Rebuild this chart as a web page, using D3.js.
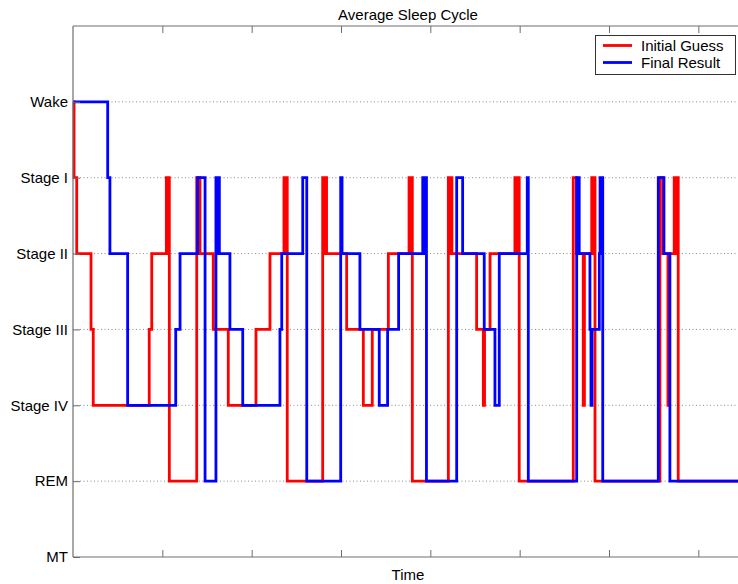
<!DOCTYPE html>
<html>
<head>
<meta charset="utf-8">
<script src="https://cdn.jsdelivr.net/npm/d3@7"></script>
<style>
  html, body { margin: 0; padding: 0; background: #fff; overflow: hidden; }
  svg { display: block; font-family: "Liberation Sans", Arial, Helvetica, sans-serif; }
</style>
</head>
<body>
<div id="chart"></div>
<script>
// ---- data ----
const stageLabels = ["MT", "REM", "Stage IV", "Stage III", "Stage II", "Stage I", "Wake"];
const xTickValues = [60, 120, 180, 240, 300, 360, 420];

// Initial Guess: change times (minutes) and stage index held from that time
const initialTimes = [0, 0.7, 2.5, 12.1, 13.6, 51.2, 52.9, 62.7, 63.3, 63.8, 64.7, 83.1, 85.3, 94.2, 104.3,
  122.9, 132.3, 141.7, 142.6, 143.3, 143.9, 167.7, 168.6, 169.3, 170.3, 183.8, 195.0, 201.0, 211.8,
  225.7, 226.5, 227.2, 227.9, 252.1, 253.0, 253.6, 254.5, 271.1, 275.6, 276.4, 280.1, 296.8, 297.8,
  298.7, 299.7, 336.0, 338.2, 342.7, 343.5, 348.4, 349.3, 349.9, 350.6, 394.2, 396.2, 399.6, 400.5,
  403.8, 404.7, 405.5, 406.5, 450];
const initialStages = [6, 5, 4, 3, 2, 3, 4, 5, 4, 5, 1, 5, 4, 3, 2,
  3, 4, 5, 4, 5, 1, 5, 4, 5, 4, 3, 2, 3, 4,
  5, 4, 5, 1, 5, 4, 5, 4, 3, 2, 3, 4, 5, 4,
  5, 1, 5, 4, 2, 4, 5, 4, 5, 1, 5, 4, 2, 4,
  5, 4, 5, 1, 1];

// Final Result
const finalTimes = [0, 23.3, 24.8, 36.7, 69.0, 71.9, 83.7, 88.7, 96.0, 96.9, 97.6, 98.3, 105.4, 114.0,
  139.0, 140.2, 154.3, 157.0, 179.8, 180.7, 192.7, 205.7, 211.3, 218.7, 234.9, 235.7, 236.4, 237.4,
  257.7, 261.7, 276.2, 283.4, 286.3, 305.1, 305.8, 338.3, 340.0, 347.2, 347.9, 348.6, 353.5, 354.0,
  354.8, 355.3, 355.8, 393.1, 396.9, 400.9, 450];
const finalStages = [6, 5, 4, 2, 3, 4, 5, 1, 5, 4, 5, 4, 3, 2,
  3, 4, 5, 1, 5, 4, 3, 2, 3, 4, 5, 4, 5, 1,
  5, 4, 3, 2, 4, 5, 1, 5, 4, 3, 2, 3, 4, 5,
  4, 5, 1, 5, 4, 1, 1];

const seriesNames = ["Initial Guess", "Final Result"];
const seriesColors = ["#ff0000", "#0000ff"];

// ---- layout ----
const W = 738, H = 584;
const mLeft = 73, mRight = 743, mTop = 26, mBottom = 557;
const fontSize = "15px";

const svg = d3.select("#chart").append("svg").attr("width", W).attr("height", H);

const x = d3.scaleLinear().domain([0, 450]).range([mLeft, mRight]);
const y = d3.scaleLinear().domain([0, 7]).range([mBottom, mTop]);

// grid
svg.append("g").selectAll("line").data([1, 2, 3, 4, 5, 6]).join("line")
  .attr("x1", mLeft).attr("x2", mRight)
  .attr("y1", d => y(d)).attr("y2", d => y(d))
  .attr("stroke", "#8c8c8c").attr("stroke-width", 1)
  .attr("stroke-dasharray", "1,2.5");

// clip
svg.append("clipPath").attr("id", "clip").append("rect")
  .attr("x", mLeft - 2).attr("y", mTop).attr("width", mRight - mLeft + 4).attr("height", mBottom - mTop);

const line = d3.line().x(d => x(d[0])).y(d => y(d[1])).curve(d3.curveStepAfter);
const series = [
  initialTimes.map((t, i) => [t, initialStages[i]]),
  finalTimes.map((t, i) => [t, finalStages[i]])
];
const lg = svg.append("g").attr("clip-path", "url(#clip)");
series.forEach((s, i) => {
  lg.append("path").datum(s).attr("d", line)
    .attr("fill", "none").attr("stroke", seriesColors[i])
    .attr("stroke-width", 2.8).attr("stroke-linejoin", "miter");
});

// axes
const axisColor = "#6e6e6e";
const gx = svg.append("g").attr("transform", `translate(0,${mBottom})`)
  .call(d3.axisBottom(x).tickValues(xTickValues).tickSize(-7).tickFormat(""));
const gxt = svg.append("g").attr("transform", `translate(0,${mTop})`)
  .call(d3.axisTop(x).tickValues(xTickValues).tickSize(-7).tickFormat(""));
const gy = svg.append("g").attr("transform", `translate(${mLeft},0)`)
  .call(d3.axisLeft(y).tickValues([0, 1, 2, 3, 4, 5, 6]).tickSize(-7).tickPadding(5)
    .tickFormat(d => stageLabels[d]));
[gx, gxt, gy].forEach(g => {
  g.select(".domain").remove();
  g.selectAll(".tick line").attr("stroke", axisColor);
  g.selectAll("text").attr("fill", "#000").style("font-size", fontSize)
    .style("font-family", "'Liberation Sans', Arial, sans-serif");
});
// frame lines
[[mLeft, mBottom, mRight, mBottom], [mLeft, mTop, mRight, mTop],
 [mLeft, mTop, mLeft, mBottom], [mRight, mTop, mRight, mBottom]].forEach(c => {
  svg.append("line").attr("x1", c[0]).attr("y1", c[1]).attr("x2", c[2]).attr("y2", c[3])
    .attr("stroke", axisColor).attr("stroke-width", 1.2);
});

// title & axis label
svg.append("text").attr("x", (mLeft + mRight) / 2).attr("y", 19.5).attr("text-anchor", "middle")
  .style("font-size", fontSize).text("Average Sleep Cycle");
svg.append("text").attr("x", (mLeft + mRight) / 2).attr("y", 580).attr("text-anchor", "middle")
  .style("font-size", fontSize).text("Time");

// legend
const leg = svg.append("g");
leg.append("rect").attr("x", 595.5).attr("y", 35.5).attr("width", 140).attr("height", 39)
  .attr("fill", "#fff").attr("stroke", "#333").attr("stroke-width", 1);
seriesNames.forEach((n, i) => {
  const yy = 45.5 + i * 17;
  leg.append("line").attr("x1", 603).attr("x2", 632).attr("y1", yy).attr("y2", yy)
    .attr("stroke", seriesColors[i]).attr("stroke-width", 2.8);
  leg.append("text").attr("x", 641).attr("y", yy + 5).style("font-size", fontSize).text(n);
});
</script>
</body>
</html>
